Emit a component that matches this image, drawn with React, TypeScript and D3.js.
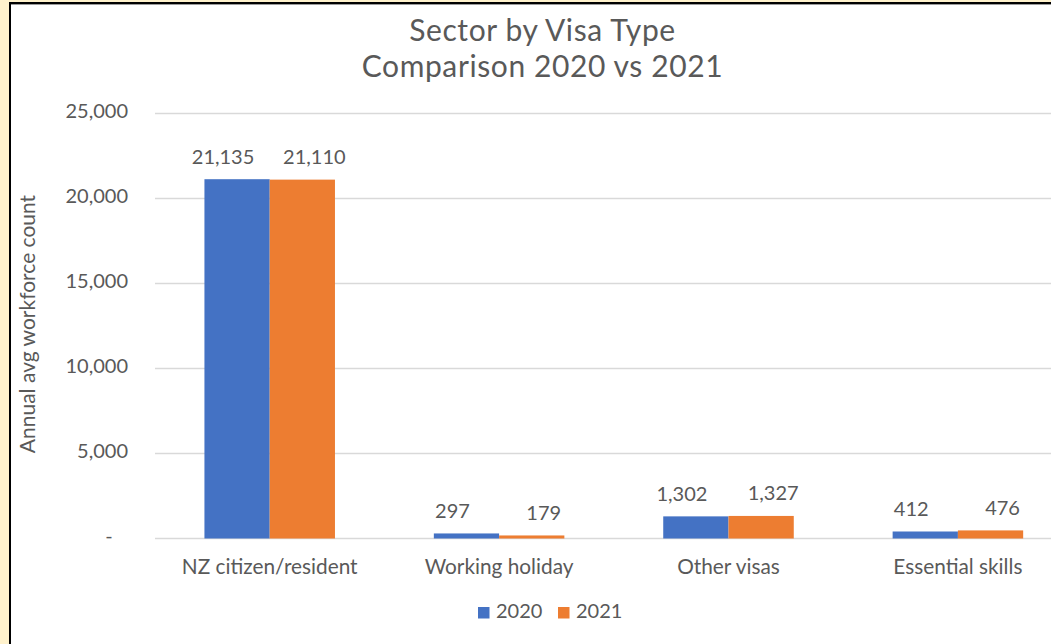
import React from "react";
import * as d3 from "d3";

const categories = ["NZ citizen/resident", "Working holiday", "Other visas", "Essential skills"];
const seriesNames = ["2020", "2021"];
const values2020 = [21135, 297, 1302, 412];
const values2021 = [21110, 179, 1327, 476];
const yTicks = [0, 5000, 10000, 15000, 20000, 25000];
const yTickLabels = ["-   ", "5,000", "10,000", "15,000", "20,000", "25,000"];
const titleLines = ["Sector by Visa Type", "Comparison 2020 vs 2021"];
const yAxisTitle = "Annual avg workforce count";

const W = 1051;
const H = 644;
const colors = ["#4472C4", "#ED7D31"];
const textColor = "#595959";
const font = "Lato, 'Open Sans', sans-serif";

export default function App() {
  const plotLeft = 155;
  const plotRight = 1072.6;
  const plotTop = 113.5;
  const plotBottom = 538.5;

  const x = d3.scaleBand<string>().domain(categories).range([plotLeft, plotRight]).paddingInner(0.431).paddingOuter(0.2155);
  const xs = d3.scaleBand<string>().domain(seriesNames).range([0, x.bandwidth()]).padding(0);
  const y = d3.scaleLinear().domain([0, 25000]).range([plotBottom, plotTop]);
  const series = [values2020, values2021];
  const fmt = d3.format(",");
  const labelNudge = [-14, 12];

  return (
    <svg width={W} height={H} style={{ position: "absolute", left: 0, top: 0, fontFamily: font }}>
      <rect x={0} y={0} width={W} height={H} fill="#FFF2CC" />
      <rect x={10} y={3} width={W + 50} height={H + 50} fill="#FFFFFF" stroke="#000" strokeWidth={2} />
      <line x1={11} x2={W} y1={4.5} y2={4.5} stroke="#9a9a9a" strokeWidth={1} />

      {titleLines.map((t, i) => (
        <text key={t} x={542.5} y={40.5 + i * 36} textAnchor="middle" fontSize={30} letterSpacing={0.6} fill={textColor}>
          {t}
        </text>
      ))}

      {yTicks.map((t, i) => (
        <g key={t}>
          <line x1={plotLeft} x2={plotRight} y1={y(t)} y2={y(t)} stroke="#D9D9D9" strokeWidth={1.5} />
          <text x={128} y={y(t) + 4.5} textAnchor="end" fontSize={20} fill={textColor} style={{ whiteSpace: "pre" }}>
            {yTickLabels[i]}
          </text>
        </g>
      ))}

      <text
        transform={`translate(34.5, 324) rotate(-90)`}
        textAnchor="middle"
        fontSize={21}
        fill={textColor}
      >
        {yAxisTitle}
      </text>

      {categories.map((c, ci) => (
        <g key={c}>
          {series.map((vals, si) => {
            const bx = (x(c) ?? 0) + (xs(seriesNames[si]) ?? 0);
            const by = y(vals[ci]);
            return (
              <g key={si}>
                <rect x={bx} y={by} width={xs.bandwidth()} height={plotBottom - by} fill={colors[si]} />
                <text
                  x={bx + xs.bandwidth() / 2 + labelNudge[si]}
                  y={by - 15.5}
                  textAnchor="middle"
                  fontSize={20}
                  fill={textColor}
                >
                  {fmt(vals[ci])}
                </text>
              </g>
            );
          })}
          <text x={(x(c) ?? 0) + x.bandwidth() / 2} y={574} textAnchor="middle" fontSize={20.8} fill={textColor}>
            {c}
          </text>
        </g>
      ))}

      {seriesNames.map((s, i) => (
        <g key={s} transform={`translate(${478 + i * 80}, 0)`}>
          <rect x={0} y={607} width={11.5} height={11.5} fill={colors[i]} />
          <text x={18} y={618} fontSize={20} fill={textColor}>
            {s}
          </text>
        </g>
      ))}
    </svg>
  );
}
